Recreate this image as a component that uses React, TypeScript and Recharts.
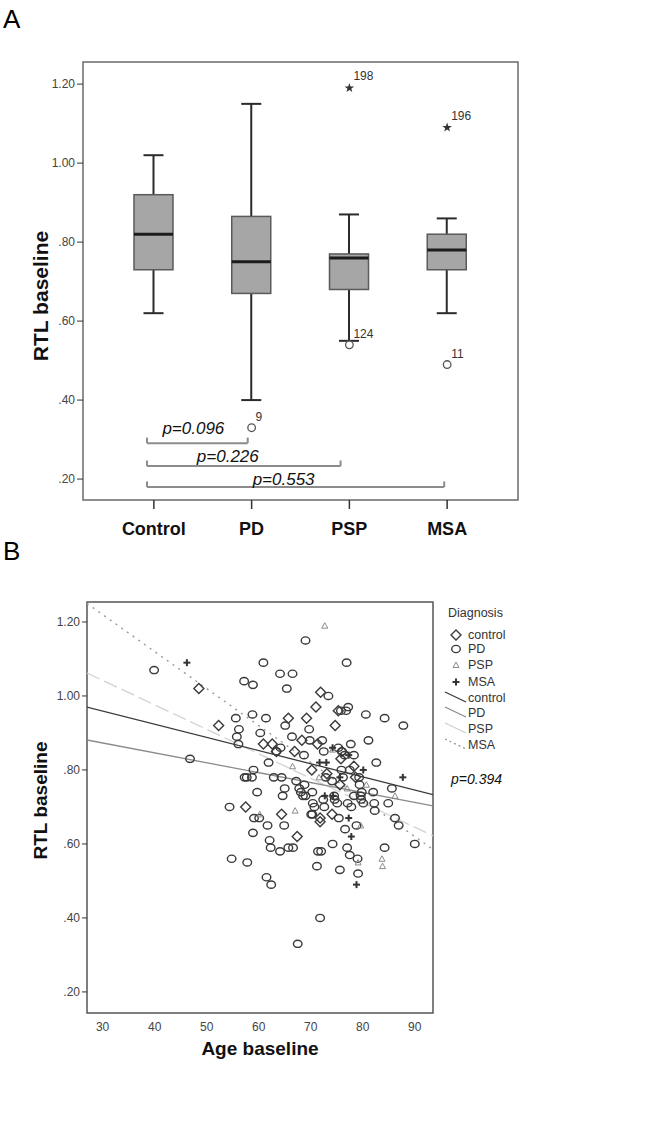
import React from "react";
import {
  Bar,
  ComposedChart,
  Legend,
  ReferenceArea,
  ReferenceLine,
  Scatter,
  ScatterChart,
  XAxis,
  YAxis,
} from "recharts";

// ---------- panel A: RTL by diagnosis (box plot) ----------
const groups = ["Control", "PD", "PSP", "MSA"];
const whiskerLow = [0.62, 0.4, 0.55, 0.62];
const quart1 = [0.73, 0.67, 0.68, 0.73];
const medians = [0.82, 0.75, 0.76, 0.78];
const quart3 = [0.92, 0.865, 0.77, 0.82];
const whiskerHigh = [1.02, 1.15, 0.87, 0.86];
const outliers = [null, 0.33, 0.54, 0.49];
const outlierIds = ["", "9", "124", "11"];
const extremes = [null, null, 1.19, 1.09];
const extremeIds = ["", "", "198", "196"];

const rtlTicks = [0.2, 0.4, 0.6, 0.8, 1.0, 1.2];
const rtlDomainA = [0.147, 1.256];
// group i sits at x = i on a numeric slot axis
const slotTicks = [0, 1, 2, 3];
const slotDomain = [-0.725, 3.725];

// pairwise tests vs control
const pLabels = ["p=0.096", "p=0.226", "p=0.553"];
const pFrom = [-0.07, -0.07, -0.07];
const pTo = [0.96, 1.91, 2.97];
const pLevel = [0.291, 0.233, 0.18];

// ---------- panel B: RTL vs age ----------
const ageTicks = [30, 40, 50, 60, 70, 80, 90];
const ageDomain = [27, 93.5];
const rtlDomainB = [0.143, 1.254];

const controlPts = [
  [48.5, 1.02], [52.3, 0.92], [57.5, 0.7], [60.9, 0.87], [62.6, 0.87], [63.4, 0.85],
  [64.4, 0.68], [65.7, 0.94], [66.9, 0.85], [67.4, 0.62], [68.3, 0.88], [69.2, 0.94],
  [70.2, 0.8], [71.0, 0.97], [71.9, 1.01], [71.8, 0.66], [71.8, 0.67], [73.1, 0.79],
  [74.1, 0.68], [74.7, 0.92], [75.3, 0.96], [75.8, 0.83], [75.6, 0.76], [78.3, 0.81],
  [78.6, 0.78], [71.3, 0.87], [76.0, 0.85],
];
const pdPts = [
  [39.9, 1.07], [46.8, 0.83], [54.4, 0.7], [54.8, 0.56], [55.6, 0.94], [55.8, 0.89],
  [56.1, 0.87], [56.2, 0.91], [57.2, 1.04], [57.3, 0.78], [57.7, 0.78], [57.8, 0.55],
  [58.7, 0.78], [58.8, 0.95], [58.9, 1.03], [58.9, 0.63], [59.0, 0.8], [59.1, 0.67],
  [59.7, 0.74], [60.1, 0.67], [60.3, 0.9], [60.9, 1.09], [61.4, 0.94], [61.5, 0.51],
  [61.7, 0.65], [61.9, 0.82], [62.1, 0.61], [62.3, 0.59], [62.4, 0.49], [62.9, 0.78],
  [63.4, 0.85], [64.1, 0.58], [64.1, 1.06], [64.2, 0.86], [64.4, 0.78], [64.6, 0.73],
  [64.9, 0.65], [65.0, 0.75], [65.1, 0.92], [65.4, 1.02], [65.7, 0.59], [66.5, 1.06],
  [66.4, 0.89], [66.6, 0.59], [67.2, 0.77], [67.5, 0.33], [67.8, 0.75], [68.1, 0.74],
  [68.5, 0.73], [68.7, 0.84], [68.8, 0.76], [69.0, 1.15], [69.0, 0.73], [69.7, 0.91],
  [69.8, 0.88], [70.1, 0.68], [70.3, 0.74], [70.4, 0.71], [70.7, 0.7], [71.2, 0.54],
  [71.4, 0.58], [71.8, 0.4], [72.0, 0.58], [72.2, 0.88], [72.4, 0.72], [72.5, 0.85],
  [72.6, 0.7], [73.4, 1.0], [74.1, 0.77], [74.2, 0.6], [74.5, 0.73], [74.6, 0.72],
  [75.3, 0.86], [75.4, 0.67], [75.6, 0.53], [75.8, 0.96], [75.9, 0.8], [76.0, 0.85],
  [76.5, 0.84], [76.6, 0.64], [76.8, 0.96], [76.9, 1.09], [77.0, 0.59], [77.1, 0.71],
  [77.2, 0.97], [77.5, 0.57], [77.7, 0.87], [77.8, 0.7], [78.3, 0.84], [78.3, 0.73],
  [78.8, 0.65], [79.0, 0.56], [79.1, 0.52], [79.3, 0.78], [79.4, 0.76], [79.6, 0.73],
  [79.8, 0.74], [80.1, 0.71], [80.6, 0.95], [81.1, 0.88], [82.0, 0.74], [82.2, 0.71],
  [82.3, 0.69], [82.6, 0.82], [84.2, 0.94], [84.2, 0.59], [84.9, 0.71], [85.6, 0.75],
  [86.2, 0.67], [86.9, 0.65], [87.8, 0.92], [90.0, 0.6], [75.1, 0.71], [77.5, 0.8],
  [79.7, 0.72], [70.3, 0.68], [72.9, 0.78], [76.2, 0.78],
];
const pspPts = [
  [72.7, 1.19], [66.5, 0.81], [67.0, 0.69], [74.2, 0.855], [80.7, 0.76], [86.2, 0.73],
  [83.7, 0.56], [83.8, 0.54], [79.1, 0.55], [79.6, 0.65], [60.2, 0.68], [77.0, 0.75],
  [71.6, 0.78],
];
const msaPts = [
  [46.2, 1.09], [71.7, 0.82], [73.0, 0.82], [74.2, 0.86], [77.3, 0.84], [80.1, 0.8],
  [87.7, 0.78], [77.8, 0.62], [78.8, 0.49], [77.3, 0.67], [75.6, 0.78], [72.7, 0.73],
  [74.3, 0.73],
];

// linear fit lines per group (end points)
const fitControl = [[27, 0.97], [93.5, 0.733]];
const fitPD = [[27, 0.881], [93.5, 0.703]];
const fitPSP = [[27, 1.062], [93.5, 0.622]];
const fitMSA = [[27, 1.25], [93.5, 0.585]];

const diagNames = ["control", "PD", "PSP", "MSA"];

const toXY = (pts: number[][]) => pts.map(([age, rtl]) => ({ age, rtl }));
const fmtRtl = (v: number) => v.toFixed(2).replace(/^0/, "");

const FONT = '"Liberation Sans", Arial, sans-serif';

// ---------- shapes ----------
function BoxShape(props: any) {
  const { x, y, width, height, payload } = props;
  const top = Math.min(y, y + height);
  const h = Math.abs(height);
  const [lo, hi] = payload.range;
  const py = (v: number) => top + ((hi - v) / (hi - lo)) * h;
  const cx = x + width / 2;
  const cap = 10;
  return (
    <g>
      <line x1={cx} x2={cx} y1={py(hi)} y2={py(lo)} stroke="#2b2b2b" strokeWidth={2} />
      <line x1={cx - cap} x2={cx + cap} y1={py(hi)} y2={py(hi)} stroke="#2b2b2b" strokeWidth={2} />
      <line x1={cx - cap} x2={cx + cap} y1={py(lo)} y2={py(lo)} stroke="#2b2b2b" strokeWidth={2} />
      <rect
        x={x}
        y={py(payload.q3)}
        width={width}
        height={py(payload.q1) - py(payload.q3)}
        fill="#a6a6a6"
        stroke="#5a5a5a"
        strokeWidth={1.5}
      />
      <line x1={x} x2={x + width} y1={py(payload.med)} y2={py(payload.med)} stroke="#1c1c1c" strokeWidth={3} />
    </g>
  );
}

function OutlierDot(props: any) {
  const { cx, cy, payload } = props;
  if (payload?.out == null || cy == null || isNaN(cy)) return <g />;
  return (
    <g>
      <circle cx={cx} cy={cy} r={3.8} fill="#fff" stroke="#555" strokeWidth={1.3} />
      <text x={cx + 4} y={cy - 7} fontSize={12} fill="#333">{payload.outId}</text>
    </g>
  );
}

function starPoints(cx: number, cy: number, R: number, r: number) {
  const pts: string[] = [];
  for (let k = 0; k < 10; k++) {
    const a = -Math.PI / 2 + (k * Math.PI) / 5;
    const rad = k % 2 ? r : R;
    pts.push(`${cx + rad * Math.cos(a)},${cy + rad * Math.sin(a)}`);
  }
  return pts.join(" ");
}

function ExtremeStar(props: any) {
  const { cx, cy, payload } = props;
  if (payload?.ext == null || cy == null || isNaN(cy)) return <g />;
  return (
    <g>
      <polygon points={starPoints(cx, cy, 5, 2)} fill="#333" />
      <text x={cx + 4} y={cy - 8} fontSize={12} fill="#333">{payload.extId}</text>
    </g>
  );
}

const Diamond = ({ cx, cy }: any) => (
  <polygon
    points={`${cx},${cy - 5} ${cx + 5},${cy} ${cx},${cy + 5} ${cx - 5},${cy}`}
    fill="none"
    stroke="#3a3a3a"
    strokeWidth={1.4}
  />
);
const Ring = ({ cx, cy }: any) => (
  <ellipse cx={cx} cy={cy} rx={4.3} ry={3.6} fill="none" stroke="#3a3a3a" strokeWidth={1.4} />
);
const Tri = ({ cx, cy }: any) => (
  <polygon
    points={`${cx},${cy - 3} ${cx + 3},${cy + 2.5} ${cx - 3},${cy + 2.5}`}
    fill="none"
    stroke="#8a8a8a"
    strokeWidth={1}
  />
);
const Plus = ({ cx, cy }: any) => (
  <g stroke="#333" strokeWidth={2}>
    <line x1={cx - 3.5} x2={cx + 3.5} y1={cy} y2={cy} />
    <line x1={cx} x2={cx} y1={cy - 3.5} y2={cy + 3.5} />
  </g>
);
const NoDot = () => <g />;

function AxisTitle(props: any) {
  const { viewBox, text, vertical, dx = 0, dy = 0, size } = props;
  const vb = viewBox || { x: 0, y: 0, width: 0, height: 0 };
  const x = vb.x + vb.width / 2 + dx;
  const y = vertical ? vb.y + vb.height / 2 + dy : vb.y + dy;
  return (
    <text
      x={x}
      y={y}
      textAnchor="middle"
      dominantBaseline="central"
      fontSize={size}
      fontWeight="bold"
      fill="#111"
      transform={vertical ? `rotate(-90, ${x}, ${y})` : undefined}
    >
      {text}
    </text>
  );
}

// legend of panel B: marker rows, then line rows, then the p-value
const markerFor = [Diamond, Ring, Tri, Plus];
const lineStyles = [
  { stroke: "#3a3a3a", dash: undefined },
  { stroke: "#8a8a8a", dash: undefined },
  { stroke: "#cfcfcf", dash: undefined },
  { stroke: "#999", dash: "2 3" },
];
const markerRows = [35, 49, 65, 82];
const lineRows = [98, 113, 129, 145];

function DiagnosisLegend() {
  const txt: React.CSSProperties = { position: "absolute", fontSize: 12.5, color: "#333", lineHeight: "14px", whiteSpace: "nowrap" };
  return (
    <div style={{ position: "relative", width: 120, height: 200, fontFamily: FONT }}>
      <div style={{ ...txt, left: 8, top: 13 - 7 }}>Diagnosis</div>
      {diagNames.map((n, i) => {
        const M = markerFor[i];
        return (
          <React.Fragment key={"m" + n}>
            <svg style={{ position: "absolute", left: 9, top: markerRows[i] - 7 }} width={14} height={14}>
              <M cx={7} cy={7} />
            </svg>
            <div style={{ ...txt, left: 28, top: markerRows[i] - 7 }}>{n}</div>
          </React.Fragment>
        );
      })}
      {diagNames.map((n, i) => (
        <React.Fragment key={"l" + n}>
          <svg style={{ position: "absolute", left: 4, top: lineRows[i] - 8 }} width={24} height={14}>
            <line x1={1} y1={2} x2={22} y2={12} stroke={lineStyles[i].stroke} strokeWidth={1.3} strokeDasharray={lineStyles[i].dash} />
          </svg>
          <div style={{ ...txt, left: 28, top: lineRows[i] - 7 }}>{n}</div>
        </React.Fragment>
      ))}
      <div style={{ ...txt, left: 11, top: 179 - 8, fontSize: 14, lineHeight: "16px", fontStyle: "italic", color: "#111" }}>
        p=0.394
      </div>
    </div>
  );
}

export default function App() {
  const boxData = groups.map((name, i) => ({
    name,
    slot: slotTicks[i],
    range: [whiskerLow[i], whiskerHigh[i]],
    q1: quart1[i],
    med: medians[i],
    q3: quart3[i],
    out: outliers[i],
    outId: outlierIds[i],
    ext: extremes[i],
    extId: extremeIds[i],
  }));
  const pOffset = [9, 4, 2];
  const pDx = [-4, -16, -12];

  return (
    <div style={{ position: "relative", width: 664, height: 1147, background: "#fff", fontFamily: FONT }}>
      <style>{"body{margin:0}"}</style>
      <div style={{ position: "absolute", left: 3, top: 6, fontSize: 26, lineHeight: "26px" }}>A</div>
      <div style={{ position: "absolute", left: 3, top: 538, fontSize: 26, lineHeight: "26px" }}>B</div>

      {/* panel A */}
      <div style={{ position: "absolute", left: 0, top: 0 }}>
        <ComposedChart width={664} height={545} data={boxData} margin={{ top: 62, right: 146, bottom: 0, left: 0 }}>
          <XAxis
            dataKey="slot"
            type="number"
            domain={slotDomain}
            allowDataOverflow
            ticks={slotTicks}
            tickFormatter={(v: number) => groups[v] ?? ""}
            axisLine={false}
            tickLine={{ stroke: "#333", strokeWidth: 1.5 }}
            tickSize={9}
            tickMargin={13}
            interval={0}
            height={45}
            tick={{ fontSize: 18, fontWeight: "bold", fill: "#111" }}
          />
          <YAxis
            type="number"
            domain={rtlDomainA}
            allowDataOverflow
            ticks={rtlTicks}
            tickFormatter={fmtRtl}
            width={83}
            axisLine={false}
            tickLine={{ stroke: "#333" }}
            tickSize={6}
            tickMargin={2}
            tick={{ fontSize: 12, fill: "#444" }}
            label={<AxisTitle text="RTL baseline" vertical size={21} dx={-1.5} dy={15} />}
          />
          <ReferenceArea
            x1={slotDomain[0]}
            x2={slotDomain[1]}
            y1={rtlDomainA[0]}
            y2={rtlDomainA[1]}
            fill="none"
            stroke="#6a6a6a"
            strokeWidth={1.5}
            ifOverflow="visible"
          />
          <Bar dataKey="range" barSize={39} shape={BoxShape} isAnimationActive={false} />
          <Scatter dataKey="out" shape={OutlierDot} isAnimationActive={false} />
          <Scatter dataKey="ext" shape={ExtremeStar} isAnimationActive={false} />
          {pLabels.map((lab, i) => (
            <React.Fragment key={lab}>
              <ReferenceLine
                ifOverflow="visible"
                segment={[{ x: pFrom[i], y: pLevel[i] }, { x: pTo[i], y: pLevel[i] }]}
                stroke="#8c8c8c"
                strokeWidth={2}
                label={{
                  value: lab,
                  position: "top",
                  offset: pOffset[i],
                  dx: pDx[i],
                  fontSize: 17,
                  fontStyle: "italic",
                  fill: "#111",
                }}
              />
              <ReferenceLine
                ifOverflow="visible"
                segment={[{ x: pFrom[i], y: pLevel[i] }, { x: pFrom[i], y: pLevel[i] + 0.014 }]}
                stroke="#8c8c8c"
                strokeWidth={2}
              />
              <ReferenceLine
                ifOverflow="visible"
                segment={[{ x: pTo[i], y: pLevel[i] }, { x: pTo[i], y: pLevel[i] + 0.014 }]}
                stroke="#8c8c8c"
                strokeWidth={2}
              />
            </React.Fragment>
          ))}
        </ComposedChart>
      </div>

      {/* panel B */}
      <div style={{ position: "absolute", left: 0, top: 540 }}>
        <ScatterChart width={664} height={607} margin={{ top: 62, right: 231, bottom: 0, left: 0 }}>
          <XAxis
            type="number"
            dataKey="age"
            domain={ageDomain}
            allowDataOverflow
            ticks={ageTicks}
            axisLine={false}
            tickLine={false}
            tickSize={0}
            tickMargin={9}
            height={134}
            tick={{ fontSize: 12, fill: "#444" }}
            label={<AxisTitle text="Age baseline" size={19} dy={35} />}
          />
          <YAxis
            type="number"
            dataKey="rtl"
            domain={rtlDomainB}
            allowDataOverflow
            ticks={rtlTicks}
            tickFormatter={fmtRtl}
            width={87}
            axisLine={false}
            tickLine={{ stroke: "#333" }}
            tickSize={5}
            tickMargin={2}
            tick={{ fontSize: 12, fill: "#444" }}
            label={<AxisTitle text="RTL baseline" vertical size={19} dx={-3.5} dy={-7} />}
          />
          <ReferenceArea
            x1={ageDomain[0]}
            x2={ageDomain[1]}
            y1={rtlDomainB[0]}
            y2={rtlDomainB[1]}
            fill="none"
            stroke="#555"
            strokeWidth={1.5}
            ifOverflow="visible"
          />
          <Scatter data={toXY(fitMSA)} line={{ stroke: "#9a9a9a", strokeWidth: 1.4, strokeDasharray: "2 5" }} shape={NoDot} legendType="none" isAnimationActive={false} />
          <Scatter data={toXY(fitPSP)} line={{ stroke: "#d2d2d2", strokeWidth: 1.3, strokeDasharray: "14 5" }} shape={NoDot} legendType="none" isAnimationActive={false} />
          <Scatter data={toXY(fitPD)} line={{ stroke: "#8a8a8a", strokeWidth: 1.3 }} shape={NoDot} legendType="none" isAnimationActive={false} />
          <Scatter data={toXY(fitControl)} line={{ stroke: "#3a3a3a", strokeWidth: 1.3 }} shape={NoDot} legendType="none" isAnimationActive={false} />
          <Scatter data={toXY(pdPts)} shape={Ring} legendType="none" isAnimationActive={false} />
          <Scatter data={toXY(controlPts)} shape={Diamond} legendType="none" isAnimationActive={false} />
          <Scatter data={toXY(pspPts)} shape={Tri} legendType="none" isAnimationActive={false} />
          <Scatter data={toXY(msaPts)} shape={Plus} legendType="none" isAnimationActive={false} />
          <Legend
            layout="horizontal"
            verticalAlign="middle"
            align="center"
            content={() => <DiagnosisLegend />}
            wrapperStyle={{ left: 440, top: 60, width: 120, height: 200 }}
          />
        </ScatterChart>
      </div>
    </div>
  );
}
